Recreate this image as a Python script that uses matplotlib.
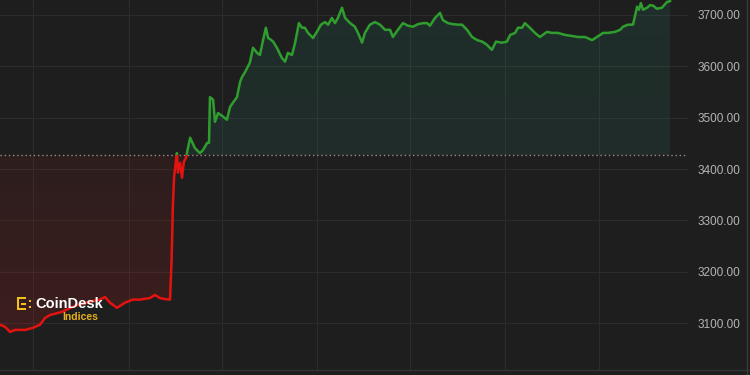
import numpy as np
import matplotlib
matplotlib.use("Agg")
import matplotlib.pyplot as plt
from matplotlib.patches import Rectangle, Polygon
from matplotlib.lines import Line2D

# Datos (horas desde el inicio, precio)
hours = [0.00, 0.16, 0.32, 0.48, 0.80, 1.05, 1.27, 1.43, 1.59, 1.97,
         2.39, 2.86, 3.18, 3.34, 3.50, 3.72, 3.98, 4.23, 4.45, 4.77,
         4.93, 5.09, 5.25, 5.41, 5.46, 5.50, 5.54, 5.60, 5.63, 5.66,
         5.73, 5.79, 5.85, 5.92, 5.98, 6.05, 6.20, 6.36, 6.46, 6.59,
         6.65, 6.68, 6.78, 6.84, 6.94, 7.10, 7.22, 7.32, 7.41, 7.54,
         7.64, 7.70, 7.80, 7.95, 8.05, 8.18, 8.27, 8.37, 8.46, 8.53,
         8.59, 8.69, 8.81, 8.97, 9.07, 9.16, 9.29, 9.39, 9.51, 9.61,
         9.70, 9.80, 9.96, 10.12, 10.21, 10.34, 10.44, 10.56, 10.66, 10.75,
         10.88, 10.98, 11.14, 11.29, 11.39, 11.52, 11.61, 11.77, 11.93, 12.09,
         12.25, 12.41, 12.50, 12.66, 12.82, 12.98, 13.14, 13.30, 13.46, 13.59,
         13.68, 13.84, 14.00, 14.09, 14.25, 14.41, 14.57, 14.70, 14.86, 15.02,
         15.18, 15.34, 15.49, 15.65, 15.78, 15.97, 16.13, 16.23, 16.39, 16.48,
         16.61, 16.70, 16.86, 17.02, 17.18, 17.40, 17.56, 17.75, 17.98, 18.20,
         18.39, 18.61, 18.84, 18.99, 19.19, 19.34, 19.57, 19.73, 19.82, 19.98,
         20.14, 20.27, 20.33, 20.39, 20.46, 20.59, 20.68, 20.78, 20.90, 21.06,
         21.22, 21.32]
price = [3097, 3093, 3083, 3087, 3087, 3091, 3097, 3110, 3116, 3122,
         3134, 3142, 3146, 3151, 3140, 3130, 3140, 3146, 3146, 3149,
         3155, 3149, 3147, 3146, 3223, 3327, 3385, 3418, 3431, 3393,
         3412, 3383, 3414, 3422, 3441, 3461, 3441, 3431, 3437, 3451,
         3451, 3540, 3535, 3492, 3509, 3502, 3496, 3521, 3529, 3540,
         3570, 3579, 3589, 3607, 3636, 3626, 3622, 3651, 3675, 3655,
         3653, 3648, 3636, 3616, 3609, 3626, 3622, 3646, 3684, 3675,
         3675, 3665, 3655, 3671, 3681, 3686, 3681, 3694, 3684, 3694,
         3714, 3694, 3684, 3677, 3665, 3646, 3665, 3681, 3686, 3681,
         3671, 3671, 3657, 3671, 3684, 3679, 3677, 3682, 3684, 3684,
         3679, 3694, 3704, 3690, 3684, 3682, 3681, 3681, 3671, 3657,
         3651, 3648, 3642, 3632, 3648, 3646, 3648, 3661, 3665, 3675,
         3675, 3684, 3675, 3665, 3657, 3667, 3665, 3665, 3661, 3659,
         3657, 3657, 3651, 3657, 3665, 3665, 3667, 3671, 3677, 3681,
         3681, 3716, 3710, 3723, 3710, 3714, 3719, 3718, 3712, 3714,
         3725, 3727]

BASELINE = 3427.5
y_ticks = [3100, 3200, 3300, 3400, 3500, 3600, 3700]
grid_hours = [1.05, 4.10, 7.06, 10.09, 13.04, 16.07, 19.06]

BG = "#1e1e1e"
GRID = "#2c2c2c"
GREEN = "#2f9e2f"
RED = "#e3130f"

t = np.array(hours)
p = np.array(price)

fig = plt.figure(figsize=(7.5, 3.75), dpi=100, facecolor=BG)
ax = fig.add_axes([0, 5 / 375, 688 / 750, 370 / 375])
ax.set_facecolor(BG)
ax.set_xlim(0, 21.89)
ax.set_ylim(3009, 3729)

# Rejilla
ax.set_xticks(grid_hours)
ax.set_yticks(y_ticks)
ax.set_yticklabels([f"{v:.2f}" for v in y_ticks])
ax.grid(True, color=GRID, lw=0.8)
ax.set_axisbelow(True)
ax.yaxis.tick_right()
ax.tick_params(axis="x", length=0, labelbottom=False)
ax.tick_params(axis="y", length=0, pad=7, labelcolor="#b4b4b4", labelsize=8.5)
for lab in ax.get_yticklabels():
    lab.set_family("Liberation Sans")
for s in ax.spines.values():
    s.set_visible(False)

# Poligono entre la linea y la base (para recortar los degradados)
verts = np.vstack([np.column_stack([t, p]), [[t[-1], BASELINE], [t[0], BASELINE]]])
area = Polygon(verts, closed=True, facecolor="none", edgecolor="none", transform=ax.transData)
ax.add_patch(area)


def gradient(rgb, a_bottom, a_top, y0, y1):
    alpha = np.linspace(a_bottom, a_top, 256)
    img = np.zeros((256, 1, 4))
    img[:, 0, :3] = rgb
    img[:, 0, 3] = alpha
    im = ax.imshow(img, extent=[t[0], t[-1], y0, y1], origin="lower",
                   aspect="auto", zorder=1, interpolation="bilinear")
    im.set_clip_path(area)


gradient((0.85, 0.10, 0.10), 0.17, 0.08, p.min(), BASELINE)
gradient((0.18, 0.62, 0.52), 0.11, 0.13, BASELINE, p.max())

# Linea base punteada
ax.axhline(BASELINE, color="#8e8e8e", lw=1, ls=(0, (1, 2)), zorder=2)

# Linea de precio: roja debajo de la base, verde encima
red_line, = ax.plot(t, p, color=RED, lw=1.8, zorder=3, solid_joinstyle="round")
red_line.set_clip_path(Rectangle((-1, 2900), 30, BASELINE - 2900, transform=ax.transData))
green_line, = ax.plot(t, p, color=GREEN, lw=1.8, zorder=3, solid_joinstyle="round")
green_line.set_clip_path(Rectangle((-1, BASELINE), 30, 500, transform=ax.transData))

# Bordes del panel
fig.add_artist(Line2D([747 / 750, 747 / 750], [0, 1], transform=fig.transFigure, color="#3a3a3a", lw=1))
fig.add_artist(Line2D([0, 1], [5 / 375, 5 / 375], transform=fig.transFigure, color="#333333", lw=1))

# Logo CoinDesk Indices
YEL = "#f0c21a"


def px_rect(x, y, w, h):
    fig.add_artist(Rectangle((x / 750, 1 - (y + h) / 375), w / 750, h / 375,
                             transform=fig.transFigure, color=YEL, lw=0))


px_rect(17, 297, 2.2, 13)
px_rect(17, 297, 9, 2.2)
px_rect(17, 307.8, 9, 2.2)
px_rect(21, 302.5, 5, 2)
px_rect(28.5, 300, 2, 2)
px_rect(28.5, 305.5, 2, 2)

fig.text(35 / 750, 1 - 308.5 / 375, "CoinDesk", color="white", fontsize=10.5,
         fontweight="bold", family="Liberation Sans", va="baseline")
fig.text(62 / 750, 1 - 320 / 375, "Indices", color="#e6b01c", fontsize=7.5,
         fontweight="bold", family="Liberation Sans", va="baseline")

fig.savefig("out.png", dpi=100, facecolor=BG)
